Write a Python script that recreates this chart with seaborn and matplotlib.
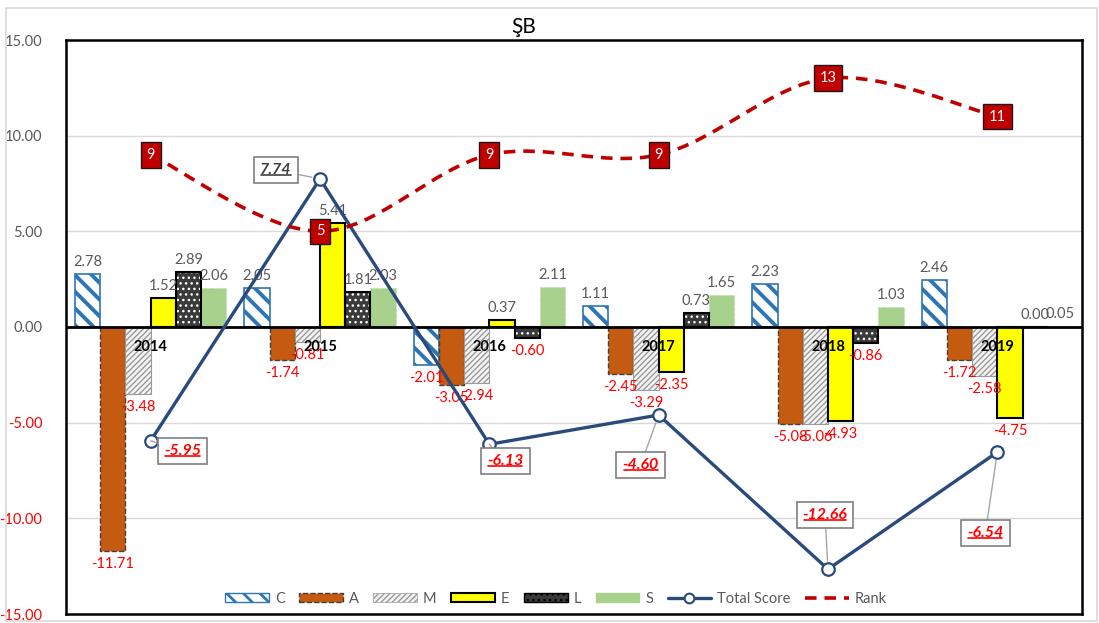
import numpy as np
import pandas as pd
import matplotlib
matplotlib.use("Agg")
import matplotlib.pyplot as plt
import seaborn as sns
from matplotlib.patches import Rectangle, Patch, PathPatch
from matplotlib.lines import Line2D
from matplotlib.path import Path
from matplotlib.text import Text

# ---------------- data ----------------
years = ["2014", "2015", "2016", "2017", "2018", "2019"]
series_names = ["C", "A", "M", "E", "L", "S"]
C = [2.78, 2.05, -2.01, 1.11, 2.23, 2.46]
A = [-11.71, -1.74, -3.05, -2.45, -5.08, -1.72]
M = [-3.48, -0.81, -2.94, -3.29, -5.06, -2.58]
E = [1.52, 5.41, 0.37, -2.35, -4.93, -4.75]
L = [2.89, 1.81, -0.60, 0.73, -0.86, 0.00]
S = [2.06, 2.03, 2.11, 1.65, 1.03, 0.05]
total_score = [-5.95, 7.74, -6.13, -4.60, -12.66, -6.54]
rank = [9, 5, 9, 9, 13, 11]
y_ticks = [15, 10, 5, 0, -5, -10, -15]
title = "ŞB"

# ---------------- style ----------------
sns.set_theme(style="white")
plt.rcParams["font.family"] = ["Lato", "DejaVu Sans"]
plt.rcParams["hatch.linewidth"] = 1.0

W, H = 1099, 623
fig = plt.figure(figsize=(W / 100, H / 100), dpi=100)
fig.patch.set_facecolor("white")
ax = fig.add_axes([66 / W, 1 - 614 / H, (1082 - 66) / W, (614 - 40) / H])

values = {"C": C, "A": A, "M": M, "E": E, "L": L, "S": S}
df = pd.DataFrame(
    [(y, s, values[s][i]) for s in series_names for i, y in enumerate(years)],
    columns=["year", "series", "value"],
)

sns.barplot(data=df, x="year", y="value", hue="series", order=years,
            hue_order=series_names, width=0.893, dodge=True, errorbar=None,
            saturation=1, legend=False, ax=ax, zorder=3)

BLUE = "#2E75B6"
styles = {
    "C": dict(facecolor="white", edgecolor=BLUE, hatch="\\\\", lw=1.2, ls="-", hlw=2.8),
    "A": dict(facecolor="#C55A11", edgecolor="#404040", hatch=None, lw=1.0, ls="--", hlw=1),
    "M": dict(facecolor="#F4F4F4", edgecolor="#9A9A9A", hatch="//////", lw=0.8, ls="-", hlw=1.0),
    "E": dict(facecolor="#FFFF00", edgecolor="black", hatch=None, lw=1.5, ls="-", hlw=1),
    "L": dict(facecolor="#3A3A3A", edgecolor="white", hatch="...", lw=0, ls="-", hlw=1.0),
    "S": dict(facecolor="#A9D18E", edgecolor="#C5E0B4", hatch=None, lw=0.8, ls="--", hlw=1),
}


def set_hlw(p, w):
    if hasattr(p, "set_hatch_linewidth"):
        p.set_hatch_linewidth(w)
    p._hatch_linewidth = w


for name, cont in zip(series_names, ax.containers):
    st = styles[name]
    for p in cont.patches:
        p.set_facecolor(st["facecolor"])
        p.set_edgecolor(st["edgecolor"])
        p.set_linewidth(st["lw"])
        p.set_linestyle(st["ls"])
        if st["hatch"]:
            p.set_hatch(st["hatch"])
            set_hlw(p, st["hlw"])
        if name == "L":
            ax.add_patch(Rectangle(p.get_xy(), p.get_width(), p.get_height(),
                                   fill=False, edgecolor="black", lw=1.5, zorder=3.1))
    # data labels
    for p, v in zip(cont.patches, values[name]):
        xc = p.get_x() + p.get_width() / 2
        if v >= 0:
            ax.annotate(f"{v:.2f}", (xc, v), xytext=(0, 5), textcoords="offset pixels",
                        ha="center", va="bottom", fontsize=10.5, color="#595959", zorder=6)
        else:
            ax.annotate(f"{v:.2f}", (xc, v), xytext=(0, -6), textcoords="offset pixels",
                        ha="center", va="top", fontsize=10.5, color="#FF0000", zorder=6)

# axes
ax.set_xlim(-0.5, len(years) - 0.5)
ax.set_ylim(-15, 15)
ax.set_yticks(y_ticks)
ax.set_yticklabels([f"{v:.2f}" for v in y_ticks])
for lab, v in zip(ax.get_yticklabels(), y_ticks):
    lab.set_color("#FF0000" if v < 0 else "#595959")
    lab.set_fontsize(10.5)
ax.tick_params(axis="y", length=0, pad=17)
ax.set_xticks([])
ax.set_xlabel("")
ax.set_ylabel("")
for yv in y_ticks:
    if abs(yv) not in (0, 15):
        ax.axhline(yv, color="#D9D9D9", lw=1, zorder=0)
ax.axhline(0, color="black", lw=2, zorder=4)
for sp in ax.spines.values():
    sp.set_visible(True)
    sp.set_color("black")
    sp.set_linewidth(1.8)

# year labels next to zero line
for i, y in enumerate(years):
    ax.annotate(y, (i, 0), xytext=(0, -20), textcoords="offset pixels", ha="center",
                va="center", fontsize=10.5, fontweight="bold", color="black", zorder=7)

# total score line
TS = "#2B4A7C"
xs = np.arange(len(years))
sns.lineplot(x=xs, y=total_score, ax=ax, color=TS, lw=2.4, marker="o", markersize=9,
             markerfacecolor="white", markeredgecolor=TS, markeredgewidth=1.6,
             sort=False, zorder=8)

# rank smoothed curve (Catmull-Rom style Bezier, as Excel smoothing)
pts = list(zip(xs.astype(float), [float(r) for r in rank]))
verts = [pts[0]]
codes = [Path.MOVETO]
n = len(pts)
for i in range(n - 1):
    p0 = pts[max(i - 1, 0)]
    p1 = pts[i]
    p2 = pts[i + 1]
    p3 = pts[min(i + 2, n - 1)]
    c1 = (p1[0] + (p2[0] - p0[0]) / 6, p1[1] + (p2[1] - p0[1]) / 6)
    c2 = (p2[0] - (p3[0] - p1[0]) / 6, p2[1] - (p3[1] - p1[1]) / 6)
    verts += [c1, c2, p2]
    codes += [Path.CURVE4] * 3
ax.add_patch(PathPatch(Path(verts, codes), fill=False, edgecolor="#C00000", lw=2.6,
                       linestyle=(0, (3.2, 2.2)), zorder=9))
for i, r in enumerate(rank):
    ax.text(i, r, str(r), ha="center", va="center", color="white", fontsize=10.5, zorder=10,
            bbox=dict(boxstyle="square,pad=0.4", fc="#C00000", ec="#1A1A1A", lw=1))

# total score labels
offsets = [(32, -10), (-44, 9), (16, -17), (-18, -50), (-3, 54), (-12, -81)]
ts_texts = []
for i, (v, off) in enumerate(zip(total_score, offsets)):
    col = "#FF0000" if v < 0 else "#404040"
    t = ax.annotate(f"{v:.2f}", (i, v), xytext=off, textcoords="offset pixels",
                    ha="center", va="center", fontsize=11.5, fontweight="bold",
                    fontstyle="italic", color=col, zorder=11,
                    bbox=dict(boxstyle="square,pad=0.38", fc="white", ec="#7F7F7F", lw=1.2),
                    arrowprops=dict(arrowstyle="-", color="#A6A6A6", lw=1,
                                    shrinkA=0, shrinkB=6))
    ts_texts.append((t, col))

# legend
hC = Patch(facecolor="white", edgecolor=BLUE, hatch="\\\\", label="C")
set_hlw(hC, 2.0)
hM = Patch(facecolor="#F4F4F4", edgecolor="#9A9A9A", hatch="//////", lw=0.5, label="M")
hL = Patch(facecolor="#3A3A3A", edgecolor="black", hatch="...", label="L")
handles = [
    hC,
    Patch(facecolor="#C55A11", edgecolor="#404040", linestyle="--", label="A"),
    hM,
    Patch(facecolor="#FFFF00", edgecolor="black", lw=1.5, label="E"),
    hL,
    Patch(facecolor="#A9D18E", edgecolor="#A9D18E", label="S"),
    Line2D([], [], color=TS, lw=2.4, marker="o", markersize=7, markerfacecolor="white",
           markeredgecolor=TS, markeredgewidth=1.5, label="Total Score"),
    Line2D([], [], color="#C00000", lw=2.6, linestyle=(0, (3.2, 2.2)), label="Rank"),
]
leg = fig.legend(handles=handles, loc="center", bbox_to_anchor=(556 / W, 1 - 599 / H),
                 ncol=8, frameon=False, fontsize=10.5, handlelength=3.0, handleheight=0.6,
                 handletextpad=0.4, columnspacing=1.0, labelcolor="#595959")
for lp in leg.get_patches():
    if lp.get_hatch() == "\\\\":
        set_hlw(lp, 2.0)

fig.text(524 / W, 1 - 27 / H, title, ha="center", va="center", fontsize=15, color="black")

# outer chart border
fig.patches.append(Rectangle((6 / W, 2 / H), (1097 - 6) / W, (618 - 5) / H,
                             transform=fig.transFigure, fill=False, ec="#D9D9D9", lw=1.2))

# underline total score labels
fig.canvas.draw()
renderer = fig.canvas.get_renderer()
inv = fig.transFigure.inverted()
for t, col in ts_texts:
    bb = Text.get_window_extent(t, renderer)
    (x0, y0), (x1, _) = inv.transform([(bb.x0 + 1, bb.y0 + 2), (bb.x1 - 1, bb.y0 + 2)])
    fig.add_artist(Line2D([x0, x1], [y0, y0], transform=fig.transFigure, color=col,
                          lw=1.2, zorder=12))

fig.savefig("out.png", dpi=100, facecolor="white")
